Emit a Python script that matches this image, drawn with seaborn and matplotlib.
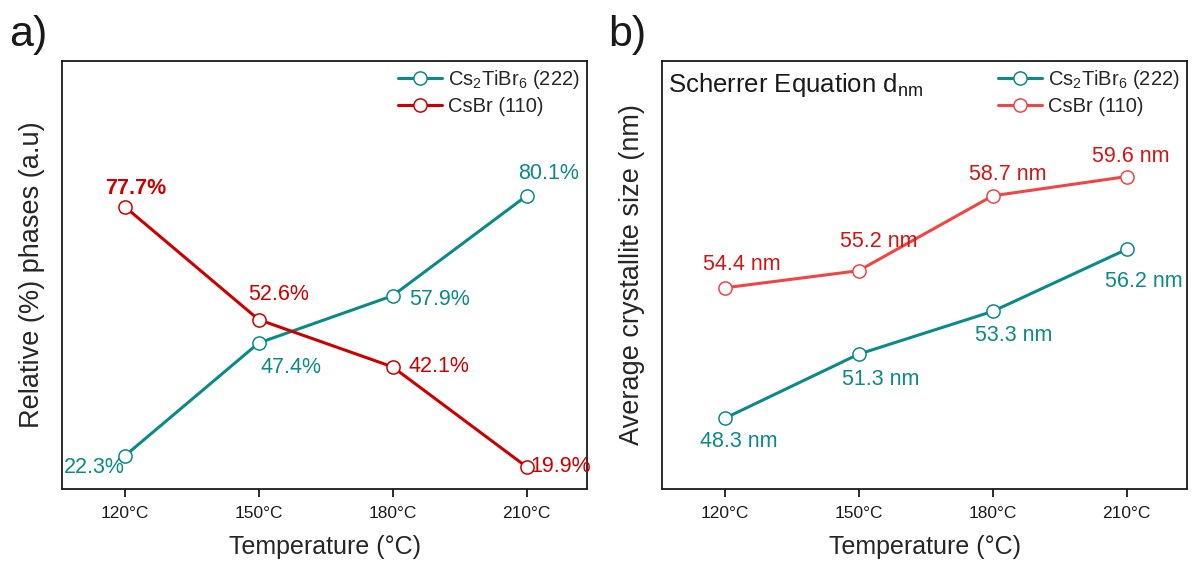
import pandas as pd
import matplotlib.pyplot as plt
import seaborn as sns
import numpy as np

# ── Data ───────────────────────────────────────────────
temps = [120, 150, 180, 210]
temp_labels = ["120°C", "150°C", "180°C", "210°C"]

phase_tibr = [22.3, 47.4, 57.9, 80.1]
phase_csbr = [77.7, 52.6, 42.1, 19.9]

size_tibr = [48.3, 51.3, 53.3, 56.2]
size_csbr = [54.4, 55.2, 58.7, 59.6]

# ── Style ──────────────────────────────────────────────
sns.set_theme(style="white")
plt.rcParams.update({
    "font.family": ["Liberation Sans", "DejaVu Sans"],
    "mathtext.default": "regular",
    "axes.linewidth": 1.3,
    "axes.edgecolor": "#1a1a1a",
})

TEAL = "#0B8A87"
RED_A = "#CC0000"
RED_B = "#F04545"
RED_TXT = "#D01515"

lbl_tibr = "Cs$_2$TiBr$_6$ (222)"
lbl_csbr = "CsBr (110)"

# label offsets in pixels (layout only)
off_a_tibr = [(-30, -11), (32, -24), (47, -4), (22, 22)]
off_a_csbr = [(11, 18), (20, 25), (46, 0), (34, 0)]
off_b_tibr = [(14, -23), (22, -25), (21, -24), (17, -32)]
off_b_csbr = [(17, 23), (20, 29), (15, 21), (4, 20)]

fig = plt.figure(figsize=(11.95, 5.64), dpi=100)
axA = fig.add_axes([0.0519, 0.133, 0.4393, 0.7588])
axB = fig.add_axes([0.554, 0.133, 0.4393, 0.7588])


def draw_series(ax, yvals, color, label):
    df = pd.DataFrame({"T": temps, "v": yvals})
    sns.lineplot(data=df, x="T", y="v", ax=ax, color=color, lw=2.2,
                 marker="o", markersize=9.5, markerfacecolor="white",
                 markeredgecolor=color, markeredgewidth=1.1, label=label)


def annotate(ax, yvals, fmt, offsets, color, bold_first=False):
    for i, (x, y) in enumerate(zip(temps, yvals)):
        ax.annotate(fmt.format(y), (x, y), xytext=offsets[i],
                    textcoords="offset pixels", ha="center", va="center",
                    fontsize=15.5, color=color,
                    fontweight="bold" if (bold_first and i == 0) else "normal")


def style_axis(ax, ylabel, ylim):
    ax.set_xlim(106, 223.5)
    ax.set_ylim(*ylim)
    ax.set_xticks(temps)
    ax.set_xticklabels(temp_labels, fontsize=12.5)
    ax.set_yticks([])
    ax.tick_params(axis="x", direction="out", length=6, width=1.3,
                   bottom=True, pad=6, colors="#1a1a1a")
    ax.set_xlabel("Temperature (°C)", fontsize=18, labelpad=10)
    ax.set_ylabel(ylabel, fontsize=19.5, labelpad=12)
    ax.legend(loc="upper right", frameon=False, fontsize=14.5,
              handlelength=2.2, handletextpad=0.3, labelspacing=0.28,
              borderaxespad=0.15, borderpad=0.2)


# ── a) ─────────────────────────────────────────────────
draw_series(axA, phase_tibr, TEAL, lbl_tibr)
draw_series(axA, phase_csbr, RED_A, lbl_csbr)
annotate(axA, phase_tibr, "{:.1f}%", off_a_tibr, TEAL)
annotate(axA, phase_csbr, "{:.1f}%", off_a_csbr, RED_A, bold_first=True)
style_axis(axA, "Relative (%) phases (a.u)", (15, 110))

# ── b) ─────────────────────────────────────────────────
draw_series(axB, size_tibr, TEAL, lbl_tibr)
draw_series(axB, size_csbr, RED_B, lbl_csbr)
annotate(axB, size_tibr, "{:.1f} nm", off_b_tibr, TEAL)
annotate(axB, size_csbr, "{:.1f} nm", off_b_csbr, RED_TXT)
style_axis(axB, "Average crystallite size (nm)", (45, 65))
axB.text(0.012, 0.945, "Scherrer Equation d$_{nm}$", transform=axB.transAxes,
         fontsize=18.5, ha="left", va="center", color="#1a1a1a")

fig.text(0.008, 0.918, "a)", fontsize=31, color="#1a1a1a")
fig.text(0.509, 0.918, "b)", fontsize=31, color="#1a1a1a")

fig.savefig("out.png", dpi=100)
